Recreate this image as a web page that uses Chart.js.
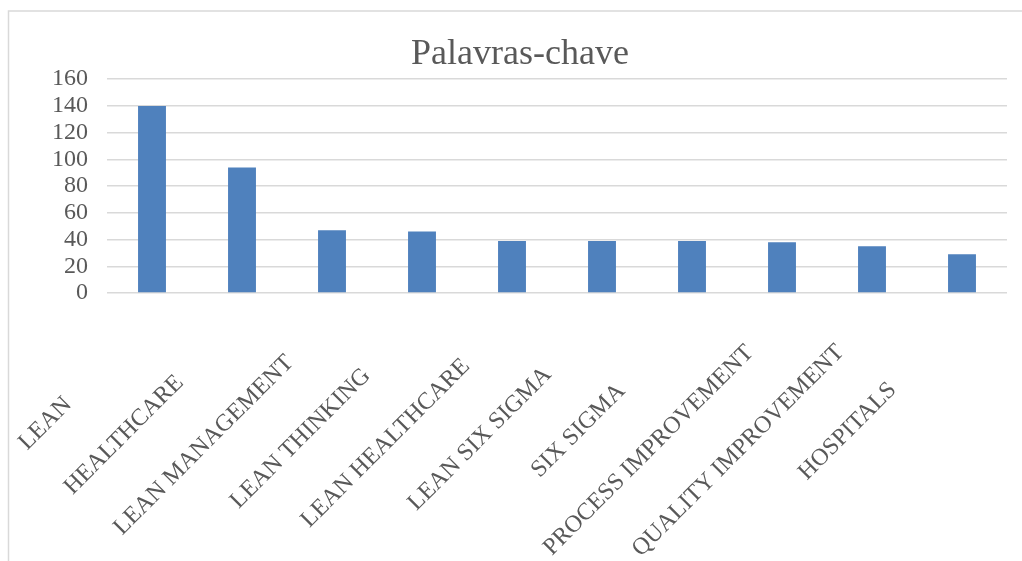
<!DOCTYPE html>
<html>
<head>
<meta charset="utf-8">
<script src="https://cdn.jsdelivr.net/npm/chart.js@4"></script>
<style>
    html, body { margin: 0; padding: 0; background: #fff; }
    #wrap { width: 1022px; height: 561px; position: relative; }
</style>
</head>
<body>
<div id="wrap"><canvas id="keywordChart"></canvas></div>
<script>
// Chart data
const keywords = ['LEAN', 'HEALTHCARE', 'LEAN MANAGEMENT', 'LEAN THINKING', 'LEAN HEALTHCARE',
    'LEAN SIX SIGMA', 'SIX SIGMA', 'PROCESS IMPROVEMENT', 'QUALITY IMPROVEMENT', 'HOSPITALS'];
const counts = [140, 94, 47, 46, 39, 39, 39, 38, 35, 29];
const yTicks = [0, 20, 40, 60, 80, 100, 120, 140, 160];

const textColor = '#595959';
const serif = '"Liberation Serif", "Times New Roman", serif';

// Outer frame of the chart object (clipped at right/bottom like the source)
const framePlugin = {
    id: 'frame',
    beforeDraw(chart) {
        const ctx = chart.ctx;
        ctx.save();
        ctx.strokeStyle = '#d9d9d9';
        ctx.lineWidth = 1.5;
        ctx.strokeRect(8.5, 11, chart.width + 50, chart.height + 50);
        ctx.restore();
    }
};

// Rotated category labels, centred along a 45 degree line through each tick;
// longer labels sit a little further out, like the Office layout does
const xLabelPlugin = {
    id: 'xLabels',
    afterDraw(chart) {
        const ctx = chart.ctx;
        const xScale = chart.scales.x;
        ctx.save();
        ctx.fillStyle = textColor;
        ctx.font = '24px ' + serif;
        ctx.textAlign = 'center';
        ctx.textBaseline = 'middle';
        keywords.forEach((label, i) => {
            const px = xScale.getPixelForTick(i);
            const shift = 99 + 0.12 * ctx.measureText(label).width;
            ctx.save();
            ctx.translate(px - shift, xScale.bottom + 24 + shift);
            ctx.rotate(-Math.PI / 4);
            ctx.fillText(label, 0, 0);
            ctx.restore();
        });
        ctx.restore();
    }
};

const ctx = document.getElementById('keywordChart').getContext('2d');
new Chart(ctx, {
    type: 'bar',
    data: {
        labels: keywords,
        datasets: [{
            label: 'Palavras-chave',
            data: counts,
            backgroundColor: '#4f81bd',
            borderWidth: 0,
            barPercentage: 0.31,
            categoryPercentage: 1.0
        }]
    },
    options: {
        responsive: true,
        maintainAspectRatio: false,
        animation: false,
        layout: {
            padding: { top: 11, left: 33, right: 15, bottom: 268 }
        },
        plugins: {
            legend: { display: false },
            tooltip: { enabled: false },
            title: {
                display: true,
                text: 'Palavras-chave',
                color: textColor,
                font: { family: serif, size: 36, weight: 'normal' },
                padding: { top: 22, bottom: 3 }
            }
        },
        scales: {
            y: {
                min: 0,
                max: 160,
                afterBuildTicks(axis) {
                    axis.ticks = yTicks.map(v => ({ value: v }));
                },
                border: { display: false },
                grid: {
                    color: '#d9d9d9',
                    lineWidth: 1.5,
                    drawTicks: false
                },
                ticks: {
                    autoSkip: false,
                    color: textColor,
                    padding: 19,
                    font: { family: serif, size: 24 }
                }
            },
            x: {
                border: { display: false },
                grid: { display: false, drawTicks: false },
                ticks: { display: false }
            }
        }
    },
    plugins: [framePlugin, xLabelPlugin]
});
</script>
</body>
</html>
